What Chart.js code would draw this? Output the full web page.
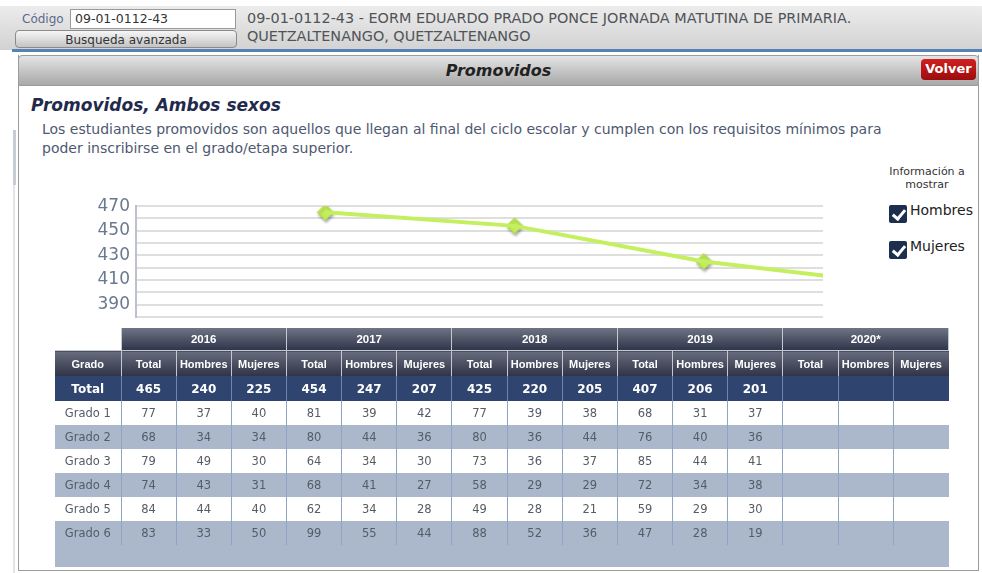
<!DOCTYPE html>
<html>
<head>
<meta charset="utf-8">
<script src="https://cdn.jsdelivr.net/npm/chart.js@4.4.1/dist/chart.umd.min.js"></script>
<style>
  body { margin: 0; width: 982px; height: 573px; position: relative; overflow: hidden; background: #fff; font-family: 'DejaVu Sans', Verdana, sans-serif; }
  .abs { position: absolute; }
  .topbar { left: 0; top: 6px; width: 982px; height: 44px; background: linear-gradient(#ececec, #d2d2d2); }
  .blue { left: 12px; top: 49px; width: 970px; height: 3px; background: #5584b4; }
  .codlbl { left: 22px; top: 12px; font-size: 12px; color: #5b6a8a; }
  .codbox { left: 70px; top: 9px; background: #fff; border: 1px solid #9a9a9a; font-size: 12.5px; color: #333; line-height: 18px; padding-left: 4px; box-sizing: border-box; width: 166px; height: 20px; }
  .btn { left: 15px; top: 30px; width: 222px; height: 18px; border: 1px solid #8a8a8a; border-radius: 4px; background: linear-gradient(#f6f6f6, #c4c4c4); font-size: 12px; color: #333; text-align: center; line-height: 18px; box-sizing: border-box; }
  .school { left: 247px; top: 9px; font-size: 14.4px; line-height: 18px; color: #505458; }
  .panel { left: 18px; top: 55px; width: 961px; height: 516px; border: 1px solid #9c9c9c; border-top: none; box-sizing: border-box; background: #fff; }
  .phead { left: 18px; top: 55px; width: 961px; height: 31px; background: linear-gradient(#e4e4e4, #a8a8a8); border: 1px solid #9c9c9c; border-radius: 4px 4px 0 0; box-sizing: border-box; text-align: center; font-weight: bold; font-style: italic; font-size: 16px; line-height: 30px; color: #222; }
  .volver { left: 921px; top: 59px; width: 55px; height: 21px; border-radius: 4px; background: linear-gradient(#d12020, #9c0c0c); color: #fff; font-weight: bold; font-size: 13px; text-align: center; line-height: 20px; }
  .scroll { left: 13px; top: 130px; width: 2px; height: 443px; background: #e4e4e4; }
  .thumb { left: 13px; top: 130px; width: 3px; height: 55px; background: #c8ccd4; }
  .title { left: 31px; top: 95px; font-size: 17px; font-weight: bold; font-style: italic; color: #1f2a4c; }
  .desc { left: 42px; top: 120px; width: 860px; font-size: 14px; line-height: 19px; color: #4e5870; }
  .info { left: 872px; top: 165px; width: 110px; text-align: center; font-size: 11px; line-height: 13px; color: #333; }
  .chk { width: 18px; height: 18px; background: #1d2e4e; border-radius: 2px; }
  .chk::after { content: ''; position: absolute; left: 6px; top: 2px; width: 5px; height: 10px; border: solid #fff; border-width: 0 3px 3px 0; transform: rotate(40deg); }
  .chklbl { font-size: 14px; color: #222; }
  #chartBox { left: 85px; top: 190px; width: 747px; height: 143px; }
  table { position: absolute; left: 55px; top: 328px; border-collapse: collapse; table-layout: fixed; width: 894px; }
  td, th { padding: 0; text-align: center; overflow: hidden; white-space: nowrap; }
  .yr th { height: 22px; background: linear-gradient(#6e7484, #30364a); color: #fff; font: bold 11.5px 'Liberation Sans', Arial, sans-serif; border-left: 1px solid #c4c8d0; border-right: 1px solid #c4c8d0; }
  .yr th.blank { background: #fff; border: none; }
  .sub th { height: 25px; background: linear-gradient(#666c7c, #2e3446); color: #fff; font: bold 11px 'Liberation Sans', Arial, sans-serif; border-left: 1px solid #c4c8d0; border-top: 1px solid #c4c8d0; }
  .tot td { height: 25px; background: #2f4570; color: #fff; font-weight: bold; font-size: 12px; border-left: 1px solid #6f84a8; }
  .row td { height: 24px; font-size: 11.5px; color: #545c66; border-left: 1px solid #90a3c2; }
  .row td:first-child, .tot td:first-child, .sub th:first-child { border-left: none; }
  .row.odd td { background: #fff; }
  .row.even td { background: #abb8cb; }
  .fill td { height: 22px; background: #abb8cb; }
</style>
</head>
<body>
<div class="abs topbar"></div>
<div class="abs codlbl">Código</div>
<div class="abs codbox">09-01-0112-43</div>
<div class="abs btn">Busqueda avanzada</div>
<div class="abs school">09-01-0112-43 - EORM EDUARDO PRADO PONCE JORNADA MATUTINA DE PRIMARIA.<br>QUETZALTENANGO, QUETZALTENANGO</div>
<div class="abs blue"></div>
<div class="abs scroll"></div>
<div class="abs thumb"></div>
<div class="abs panel"></div>
<div class="abs phead">Promovidos</div>
<div class="abs volver">Volver</div>
<div class="abs title">Promovidos, Ambos sexos</div>
<div class="abs desc">Los estudiantes promovidos son aquellos que llegan al final del ciclo escolar y cumplen con los requisitos mínimos para poder inscribirse en el grado/etapa superior.</div>
<div class="abs info">Información a<br>mostrar</div>
<div class="abs chk" style="left:889px;top:205px"></div>
<div class="abs chklbl" style="left:910px;top:202px">Hombres</div>
<div class="abs chk" style="left:889px;top:241px"></div>
<div class="abs chklbl" style="left:910px;top:238px">Mujeres</div>
<div class="abs" id="chartBox"><canvas id="lineChart"></canvas></div>
<table id="tbl"></table>

<script>
// chart series
const chartYears = [2016, 2017, 2018, 2019];
const chartTotals = [465, 454, 425, 407];

// table
const years = ['2016', '2017', '2018', '2019', '2020*'];
const grados = ['Grado 1', 'Grado 2', 'Grado 3', 'Grado 4', 'Grado 5', 'Grado 6'];
const totalAll = [465, 454, 425, 407, null];
const totalHombres = [240, 247, 220, 206, null];
const totalMujeres = [225, 207, 205, 201, null];

const t2016 = [77, 68, 79, 74, 84, 83];
const h2016 = [37, 34, 49, 43, 44, 33];
const m2016 = [40, 34, 30, 31, 40, 50];
const t2017 = [81, 80, 64, 68, 62, 99];
const h2017 = [39, 44, 34, 41, 34, 55];
const m2017 = [42, 36, 30, 27, 28, 44];
const t2018 = [77, 80, 73, 58, 49, 88];
const h2018 = [39, 36, 36, 29, 28, 52];
const m2018 = [38, 44, 37, 29, 21, 36];
const t2019 = [68, 76, 85, 72, 59, 47];
const h2019 = [31, 40, 44, 34, 29, 28];
const m2019 = [37, 36, 41, 38, 30, 19];
const t2020 = [], h2020 = [], m2020 = [];

const byYear = [
  [t2016, h2016, m2016], [t2017, h2017, m2017], [t2018, h2018, m2018],
  [t2019, h2019, m2019], [t2020, h2020, m2020]
];

function buildTable() {
  const v = x => (x == null ? '' : x);
  let html = '<colgroup><col style="width:66px">' + '<col>'.repeat(15) + '</colgroup>';
  html += '<tr class="yr"><th class="blank"></th>' + years.map(y => `<th colspan="3">${y}</th>`).join('') + '</tr>';
  html += '<tr class="sub"><th>Grado</th>' + years.map(() => '<th>Total</th><th>Hombres</th><th>Mujeres</th>').join('') + '</tr>';
  html += '<tr class="tot"><td>Total</td>' + years.map((_, i) =>
    `<td>${v(totalAll[i])}</td><td>${v(totalHombres[i])}</td><td>${v(totalMujeres[i])}</td>`).join('') + '</tr>';
  grados.forEach((g, r) => {
    html += `<tr class="row ${r % 2 ? 'even' : 'odd'}"><td>${g}</td>` + byYear.map(([t, h, m]) =>
      `<td>${v(t[r])}</td><td>${v(h[r])}</td><td>${v(m[r])}</td>`).join('') + '</tr>';
  });
  html += '<tr class="fill"><td colspan="16"></td></tr>';
  document.getElementById('tbl').innerHTML = html;
}
buildTable();

const pts = chartYears.map((y, i) => ({ x: y, y: chartTotals[i] }));

const markerShadow = {
  id: 'markerShadow',
  beforeDatasetDraw(chart, args) {
    if (args.index !== 1) return;
    const ctx = chart.ctx;
    ctx.save();
    ctx.shadowColor = 'rgba(0,0,0,0.35)';
    ctx.shadowBlur = 3;
    ctx.shadowOffsetX = 1;
    ctx.shadowOffsetY = 2;
  },
  afterDatasetDraw(chart, args) {
    if (args.index !== 1) return;
    chart.ctx.restore();
  }
};

new Chart(document.getElementById('lineChart'), {
  type: 'line',
  data: {
    datasets: [
      { data: pts, borderColor: '#c4ef5e', borderWidth: 4, pointRadius: 0, tension: 0 },
      { data: pts, showLine: false, pointStyle: 'rectRot', pointRadius: 8,
        pointBackgroundColor: '#c2ed5a', pointBorderColor: '#b2de4a', pointBorderWidth: 1 }
    ]
  },
  plugins: [markerShadow],
  options: {
    responsive: true,
    maintainAspectRatio: false,
    animation: false,
    layout: { padding: { top: 16, bottom: 12, right: 3, left: 0 } },
    plugins: { legend: { display: false }, tooltip: { enabled: false } },
    scales: {
      x: { type: 'linear', min: 2015, max: 2018.63, display: false },
      y: {
        min: 380, max: 470,
        afterFit: s => { s.width = 51; },
        border: { color: '#bcc1cc', width: 2 },
        grid: { color: '#dedede', lineWidth: 2, drawTicks: false },
        ticks: {
          stepSize: 10, padding: 6, color: '#6a7890', autoSkip: false,
          font: { family: 'DejaVu Sans', size: 17 },
          callback: v => (v % 20 === 10 ? v : '')
        }
      }
    }
  }
});
</script>
</body>
</html>
